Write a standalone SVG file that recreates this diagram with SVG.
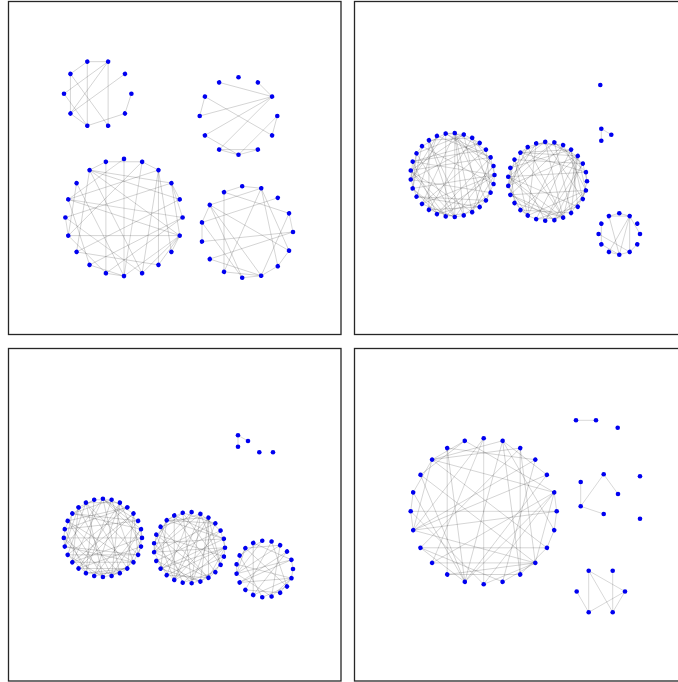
<svg xmlns="http://www.w3.org/2000/svg" xmlns:xlink="http://www.w3.org/1999/xlink" width="678" height="682" viewBox="0 0 678 682">
<style>
.frame{fill:#fff;stroke:#262626;stroke-width:1.3}
#connectors{stroke:#000;stroke-opacity:0.22;fill:none;stroke-linecap:butt}
#nodes circle{fill:#0000f0}
</style>
<defs>
<path id="c10-1" d="M1 0L0.809 -0.5878"/><path id="c10-2" d="M1 0L0.309 -0.9511"/><path id="c10-3" d="M1 0L-0.309 -0.9511"/><path id="c10-4" d="M1 0L-0.809 -0.5878"/><path id="c10-5" d="M1 0L-1 0"/>
<path id="c12-1" d="M1 0L0.866 -0.5"/><path id="c12-2" d="M1 0L0.5 -0.866"/><path id="c12-3" d="M1 0L0 -1"/><path id="c12-4" d="M1 0L-0.5 -0.866"/><path id="c12-5" d="M1 0L-0.866 -0.5"/><path id="c12-6" d="M1 0L-1 0"/>
<path id="c15-1" d="M1 0L0.9135 -0.4067"/><path id="c15-2" d="M1 0L0.6691 -0.7431"/><path id="c15-3" d="M1 0L0.309 -0.9511"/><path id="c15-4" d="M1 0L-0.1045 -0.9945"/><path id="c15-5" d="M1 0L-0.5 -0.866"/><path id="c15-6" d="M1 0L-0.809 -0.5878"/><path id="c15-7" d="M1 0L-0.9781 -0.2079"/>
<path id="c19-1" d="M1 0L0.9458 -0.3247"/><path id="c19-2" d="M1 0L0.7891 -0.6142"/><path id="c19-3" d="M1 0L0.5469 -0.8372"/><path id="c19-4" d="M1 0L0.2455 -0.9694"/><path id="c19-5" d="M1 0L-0.0826 -0.9966"/><path id="c19-6" d="M1 0L-0.4017 -0.9158"/><path id="c19-7" d="M1 0L-0.6773 -0.7357"/><path id="c19-8" d="M1 0L-0.8795 -0.4759"/><path id="c19-9" d="M1 0L-0.9864 -0.1646"/>
<path id="c20-1" d="M1 0L0.9511 -0.309"/><path id="c20-2" d="M1 0L0.809 -0.5878"/><path id="c20-3" d="M1 0L0.5878 -0.809"/><path id="c20-4" d="M1 0L0.309 -0.9511"/><path id="c20-5" d="M1 0L0 -1"/><path id="c20-6" d="M1 0L-0.309 -0.9511"/><path id="c20-7" d="M1 0L-0.5878 -0.809"/><path id="c20-8" d="M1 0L-0.809 -0.5878"/><path id="c20-9" d="M1 0L-0.9511 -0.309"/><path id="c20-10" d="M1 0L-1 0"/>
<path id="c24-1" d="M1 0L0.9659 -0.2588"/><path id="c24-2" d="M1 0L0.866 -0.5"/><path id="c24-3" d="M1 0L0.7071 -0.7071"/><path id="c24-4" d="M1 0L0.5 -0.866"/><path id="c24-5" d="M1 0L0.2588 -0.9659"/><path id="c24-6" d="M1 0L0 -1"/><path id="c24-7" d="M1 0L-0.2588 -0.9659"/><path id="c24-8" d="M1 0L-0.5 -0.866"/><path id="c24-9" d="M1 0L-0.7071 -0.7071"/><path id="c24-10" d="M1 0L-0.866 -0.5"/><path id="c24-11" d="M1 0L-0.9659 -0.2588"/><path id="c24-12" d="M1 0L-1 0"/>
<path id="c25-1" d="M1 0L0.9686 -0.2487"/><path id="c25-2" d="M1 0L0.8763 -0.4818"/><path id="c25-3" d="M1 0L0.729 -0.6845"/><path id="c25-4" d="M1 0L0.5358 -0.8443"/><path id="c25-5" d="M1 0L0.309 -0.9511"/><path id="c25-6" d="M1 0L0.0628 -0.998"/><path id="c25-7" d="M1 0L-0.1874 -0.9823"/><path id="c25-8" d="M1 0L-0.4258 -0.9048"/><path id="c25-9" d="M1 0L-0.6374 -0.7705"/><path id="c25-10" d="M1 0L-0.809 -0.5878"/><path id="c25-11" d="M1 0L-0.9298 -0.3681"/><path id="c25-12" d="M1 0L-0.9921 -0.1253"/>
<path id="c27-1" d="M1 0L0.973 -0.2306"/><path id="c27-2" d="M1 0L0.8936 -0.4488"/><path id="c27-3" d="M1 0L0.766 -0.6428"/><path id="c27-4" d="M1 0L0.5972 -0.8021"/><path id="c27-5" d="M1 0L0.3961 -0.9182"/><path id="c27-6" d="M1 0L0.1736 -0.9848"/><path id="c27-7" d="M1 0L-0.0581 -0.9983"/><path id="c27-8" d="M1 0L-0.2868 -0.958"/><path id="c27-9" d="M1 0L-0.5 -0.866"/><path id="c27-10" d="M1 0L-0.6862 -0.7274"/><path id="c27-11" d="M1 0L-0.8355 -0.5495"/><path id="c27-12" d="M1 0L-0.9397 -0.342"/><path id="c27-13" d="M1 0L-0.9932 -0.1161"/>
<path id="c28-1" d="M1 0L0.9749 -0.2225"/><path id="c28-2" d="M1 0L0.901 -0.4339"/><path id="c28-3" d="M1 0L0.7818 -0.6235"/><path id="c28-4" d="M1 0L0.6235 -0.7818"/><path id="c28-5" d="M1 0L0.4339 -0.901"/><path id="c28-6" d="M1 0L0.2225 -0.9749"/><path id="c28-7" d="M1 0L0 -1"/><path id="c28-8" d="M1 0L-0.2225 -0.9749"/><path id="c28-9" d="M1 0L-0.4339 -0.901"/><path id="c28-10" d="M1 0L-0.6235 -0.7818"/><path id="c28-11" d="M1 0L-0.7818 -0.6235"/><path id="c28-12" d="M1 0L-0.901 -0.4339"/><path id="c28-13" d="M1 0L-0.9749 -0.2225"/><path id="c28-14" d="M1 0L-1 0"/>
<path id="c29-1" d="M1 0L0.9766 -0.215"/><path id="c29-2" d="M1 0L0.9076 -0.4199"/><path id="c29-3" d="M1 0L0.7961 -0.6052"/><path id="c29-4" d="M1 0L0.6474 -0.7622"/><path id="c29-5" d="M1 0L0.4684 -0.8835"/><path id="c29-6" d="M1 0L0.2675 -0.9636"/><path id="c29-7" d="M1 0L0.0541 -0.9985"/><path id="c29-8" d="M1 0L-0.1618 -0.9868"/><path id="c29-9" d="M1 0L-0.3701 -0.929"/><path id="c29-10" d="M1 0L-0.5612 -0.8277"/><path id="c29-11" d="M1 0L-0.726 -0.6877"/><path id="c29-12" d="M1 0L-0.8568 -0.5156"/><path id="c29-13" d="M1 0L-0.9477 -0.3193"/><path id="c29-14" d="M1 0L-0.9941 -0.1081"/>
</defs>
<rect width="678" height="682" fill="#fff"/>
<g id="frames">
<rect class="frame" x="8.5" y="1.5" width="332.5" height="333"/>
<rect class="frame" x="354.5" y="1.5" width="340" height="333"/>
<rect class="frame" x="8.5" y="348.5" width="332.5" height="332.5"/>
<rect class="frame" x="354.5" y="348.5" width="340" height="332.5"/>
</g>
<g id="connectors">
<g transform="translate(97.7 93.7) scale(33.7)" stroke-width="0.021">
<use href="#c10-1" transform="rotate(-72)"/><use href="#c10-1" transform="rotate(-108)"/><use href="#c10-4" transform="rotate(-108)"/><use href="#c10-4" transform="rotate(-288)"/><use href="#c10-4" transform="rotate(-72)"/><use href="#c10-3" transform="rotate(-72)"/><use href="#c10-2" transform="rotate(-144)"/><use href="#c10-4" transform="rotate(-144)"/><use href="#c10-5" transform="rotate(-36)"/><use href="#c10-1" transform="rotate(-324)"/><use href="#c10-2" transform="rotate(-252)"/><use href="#c10-2" transform="rotate(-180)"/><use href="#c10-1" transform="rotate(-216)"/>
</g>
<g transform="translate(238.5 116) scale(38.8)" stroke-width="0.018">
<use href="#c12-3" transform="rotate(-30)"/><use href="#c12-1" transform="rotate(-30)"/><use href="#c12-5" transform="rotate(-30)"/><use href="#c12-6" transform="rotate(-30)"/><use href="#c12-5" transform="rotate(-240)"/><use href="#c12-1" transform="rotate(-150)"/><use href="#c12-6" transform="rotate(-150)"/><use href="#c12-3" transform="rotate(-270)"/><use href="#c12-1" transform="rotate(-330)"/><use href="#c12-2" transform="rotate(-210)"/><use href="#c12-1" transform="rotate(-240)"/><use href="#c12-1" transform="rotate(-270)"/><use href="#c12-2" transform="rotate(-240)"/>
</g>
<g transform="translate(124 217.5) scale(58.6)" stroke-width="0.012">
<use href="#c20-9"/><use href="#c20-6" transform="rotate(-18)"/><use href="#c20-1" transform="rotate(-18)"/><use href="#c20-5" transform="rotate(-36)"/><use href="#c20-8" transform="rotate(-36)"/><use href="#c20-6" transform="rotate(-54)"/><use href="#c20-1" transform="rotate(-54)"/><use href="#c20-7" transform="rotate(-72)"/><use href="#c20-2" transform="rotate(-72)"/><use href="#c20-10" transform="rotate(-90)"/><use href="#c20-4" transform="rotate(-90)"/><use href="#c20-8" transform="rotate(-108)"/><use href="#c20-1" transform="rotate(-108)"/><use href="#c20-5" transform="rotate(-126)"/><use href="#c20-9" transform="rotate(-126)"/><use href="#c20-3" transform="rotate(-144)"/><use href="#c20-7" transform="rotate(-144)"/><use href="#c20-10" transform="rotate(-162)"/><use href="#c20-4" transform="rotate(-162)"/><use href="#c20-6" transform="rotate(-180)"/><use href="#c20-1" transform="rotate(-180)"/><use href="#c20-8" transform="rotate(-198)"/><use href="#c20-3" transform="rotate(-198)"/><use href="#c20-5" transform="rotate(-216)"/><use href="#c20-9" transform="rotate(-216)"/><use href="#c20-2" transform="rotate(-234)"/><use href="#c20-7" transform="rotate(-234)"/><use href="#c20-6" transform="rotate(-252)"/><use href="#c20-1" transform="rotate(-252)"/><use href="#c20-4" transform="rotate(-270)"/><use href="#c20-9" transform="rotate(-270)"/><use href="#c20-3" transform="rotate(-288)"/><use href="#c20-7" transform="rotate(-288)"/><use href="#c20-2" transform="rotate(-306)"/><use href="#c20-6" transform="rotate(-306)"/><use href="#c20-5" transform="rotate(-324)"/><use href="#c20-1" transform="rotate(-324)"/><use href="#c20-3" transform="rotate(-342)"/><use href="#c20-8" transform="rotate(-342)"/><use href="#c20-2"/>
</g>
<g transform="translate(247 232) scale(46)" stroke-width="0.0152">
<use href="#c15-1" transform="rotate(-72)"/><use href="#c15-1" transform="rotate(-96)"/><use href="#c15-4" transform="rotate(-24)"/><use href="#c15-3" transform="rotate(-72)"/><use href="#c15-5" transform="rotate(-312)"/><use href="#c15-4" transform="rotate(-336)"/><use href="#c15-7" transform="rotate(-72)"/><use href="#c15-7" transform="rotate(-336)"/><use href="#c15-6" transform="rotate(-144)"/><use href="#c15-5" transform="rotate(-144)"/><use href="#c15-1" transform="rotate(-144)"/><use href="#c15-1" transform="rotate(-168)"/><use href="#c15-7" transform="rotate(-192)"/><use href="#c15-6" transform="rotate(-216)"/><use href="#c15-2" transform="rotate(-240)"/><use href="#c15-1" transform="rotate(-264)"/><use href="#c15-1" transform="rotate(-288)"/><use href="#c15-1" transform="rotate(-312)"/><use href="#c15-4" transform="rotate(-168)"/><use href="#c15-4" transform="rotate(-288)"/><use href="#c15-1"/><use href="#c15-5" transform="rotate(-48)"/><use href="#c15-5" transform="rotate(-120)"/><use href="#c15-3" transform="rotate(-216)"/>
</g>
<g transform="translate(452.5 175) scale(42)" stroke-width="0.0167">
<use href="#c29-2"/><use href="#c29-1"/><use href="#c29-13"/>
<use href="#c29-7" transform="rotate(-12.414)"/><use href="#c29-4" transform="rotate(-12.414)"/>
<use href="#c29-12" transform="rotate(-24.828)"/><use href="#c29-7" transform="rotate(-24.828)"/><use href="#c29-6" transform="rotate(-24.828)"/>
<use href="#c29-4" transform="rotate(-37.241)"/><use href="#c29-10" transform="rotate(-37.241)"/>
<use href="#c29-9" transform="rotate(-49.655)"/><use href="#c29-2" transform="rotate(-49.655)"/><use href="#c29-11" transform="rotate(-49.655)"/>
<use href="#c29-14" transform="rotate(-62.069)"/><use href="#c29-5" transform="rotate(-62.069)"/>
<use href="#c29-6" transform="rotate(-74.483)"/><use href="#c29-8" transform="rotate(-74.483)"/><use href="#c29-2" transform="rotate(-74.483)"/>
<use href="#c29-11" transform="rotate(-86.897)"/><use href="#c29-1" transform="rotate(-86.897)"/>
<use href="#c29-3" transform="rotate(-99.31)"/><use href="#c29-13" transform="rotate(-99.31)"/><use href="#c29-7" transform="rotate(-99.31)"/>
<use href="#c29-8" transform="rotate(-111.724)"/><use href="#c29-6" transform="rotate(-111.724)"/>
<use href="#c29-13" transform="rotate(-124.138)"/><use href="#c29-9" transform="rotate(-124.138)"/><use href="#c29-12" transform="rotate(-124.138)"/>
<use href="#c29-5" transform="rotate(-136.552)"/><use href="#c29-1" transform="rotate(-136.552)"/>
<use href="#c29-10" transform="rotate(-148.966)"/><use href="#c29-4" transform="rotate(-148.966)"/><use href="#c29-3" transform="rotate(-148.966)"/>
<use href="#c29-2" transform="rotate(-161.379)"/><use href="#c29-7" transform="rotate(-161.379)"/>
<use href="#c29-7" transform="rotate(-173.793)"/><use href="#c29-10" transform="rotate(-173.793)"/><use href="#c29-8" transform="rotate(-173.793)"/>
<use href="#c29-12" transform="rotate(-186.207)"/><use href="#c29-2" transform="rotate(-186.207)"/>
<use href="#c29-4" transform="rotate(-198.621)"/><use href="#c29-5" transform="rotate(-198.621)"/><use href="#c29-13" transform="rotate(-198.621)"/>
<use href="#c29-9" transform="rotate(-211.034)"/><use href="#c29-8" transform="rotate(-211.034)"/>
<use href="#c29-14" transform="rotate(-223.448)"/><use href="#c29-11" transform="rotate(-223.448)"/><use href="#c29-4" transform="rotate(-223.448)"/>
<use href="#c29-6" transform="rotate(-235.862)"/><use href="#c29-3" transform="rotate(-235.862)"/>
<use href="#c29-11" transform="rotate(-248.276)"/><use href="#c29-6" transform="rotate(-248.276)"/><use href="#c29-9" transform="rotate(-248.276)"/>
<use href="#c29-3" transform="rotate(-260.69)"/><use href="#c29-9" transform="rotate(-260.69)"/>
<use href="#c29-8" transform="rotate(-273.103)"/><use href="#c29-1" transform="rotate(-273.103)"/><use href="#c29-14" transform="rotate(-273.103)"/>
<use href="#c29-13" transform="rotate(-285.517)"/><use href="#c29-4" transform="rotate(-285.517)"/>
<use href="#c29-5" transform="rotate(-297.931)"/><use href="#c29-7" transform="rotate(-297.931)"/><use href="#c29-12" transform="rotate(-297.931)"/>
<use href="#c29-10" transform="rotate(-310.345)"/><use href="#c29-1" transform="rotate(-310.345)"/>
<use href="#c29-2" transform="rotate(-322.759)"/><use href="#c29-1" transform="rotate(-322.759)"/><use href="#c29-10" transform="rotate(-322.759)"/>
<use href="#c29-7" transform="rotate(-335.172)"/><use href="#c29-5" transform="rotate(-335.172)"/>
<use href="#c29-12" transform="rotate(-347.586)"/><use href="#c29-8" transform="rotate(-347.586)"/><use href="#c29-1" transform="rotate(-347.586)"/>
</g>
<g transform="translate(547.5 181.3) scale(39.5)" stroke-width="0.0177">
<use href="#c27-2"/><use href="#c27-1"/>
<use href="#c27-9" transform="rotate(-13.333)"/><use href="#c27-5" transform="rotate(-13.333)"/><use href="#c27-12" transform="rotate(-13.333)"/>
<use href="#c27-4" transform="rotate(-26.667)"/><use href="#c27-9" transform="rotate(-26.667)"/>
<use href="#c27-11" transform="rotate(-40)"/><use href="#c27-4" transform="rotate(-40)"/><use href="#c27-7" transform="rotate(-40)"/>
<use href="#c27-6" transform="rotate(-53.333)"/><use href="#c27-8" transform="rotate(-53.333)"/>
<use href="#c27-13" transform="rotate(-66.667)"/><use href="#c27-3" transform="rotate(-66.667)"/><use href="#c27-10" transform="rotate(-66.667)"/>
<use href="#c27-8" transform="rotate(-80)"/><use href="#c27-7" transform="rotate(-80)"/>
<use href="#c27-3" transform="rotate(-93.333)"/><use href="#c27-2" transform="rotate(-93.333)"/><use href="#c27-5" transform="rotate(-93.333)"/>
<use href="#c27-10" transform="rotate(-106.667)"/><use href="#c27-6" transform="rotate(-106.667)"/>
<use href="#c27-5" transform="rotate(-120)"/><use href="#c27-1" transform="rotate(-120)"/><use href="#c27-13" transform="rotate(-120)"/>
<use href="#c27-12" transform="rotate(-133.333)"/><use href="#c27-5" transform="rotate(-133.333)"/>
<use href="#c27-7" transform="rotate(-146.667)"/><use href="#c27-9" transform="rotate(-146.667)"/><use href="#c27-3" transform="rotate(-146.667)"/>
<use href="#c27-2" transform="rotate(-160)"/><use href="#c27-4" transform="rotate(-160)"/>
<use href="#c27-9" transform="rotate(-173.333)"/><use href="#c27-8" transform="rotate(-173.333)"/><use href="#c27-11" transform="rotate(-173.333)"/>
<use href="#c27-4" transform="rotate(-186.667)"/><use href="#c27-3" transform="rotate(-186.667)"/>
<use href="#c27-11" transform="rotate(-200)"/><use href="#c27-7" transform="rotate(-200)"/><use href="#c27-6" transform="rotate(-200)"/>
<use href="#c27-6" transform="rotate(-213.333)"/><use href="#c27-2" transform="rotate(-213.333)"/>
<use href="#c27-13" transform="rotate(-226.667)"/><use href="#c27-6" transform="rotate(-226.667)"/><use href="#c27-1" transform="rotate(-226.667)"/>
<use href="#c27-8" transform="rotate(-240)"/><use href="#c27-1" transform="rotate(-240)"/>
<use href="#c27-3" transform="rotate(-253.333)"/><use href="#c27-5" transform="rotate(-253.333)"/><use href="#c27-12" transform="rotate(-253.333)"/>
<use href="#c27-10" transform="rotate(-266.667)"/><use href="#c27-9" transform="rotate(-266.667)"/>
<use href="#c27-5" transform="rotate(-280)"/><use href="#c27-4" transform="rotate(-280)"/><use href="#c27-8" transform="rotate(-280)"/>
<use href="#c27-12" transform="rotate(-293.333)"/><use href="#c27-8" transform="rotate(-293.333)"/>
<use href="#c27-7" transform="rotate(-306.667)"/><use href="#c27-3" transform="rotate(-306.667)"/><use href="#c27-10" transform="rotate(-306.667)"/>
<use href="#c27-2" transform="rotate(-320)"/><use href="#c27-7" transform="rotate(-320)"/>
<use href="#c27-9" transform="rotate(-333.333)"/><use href="#c27-2" transform="rotate(-333.333)"/><use href="#c27-6" transform="rotate(-333.333)"/>
<use href="#c27-4" transform="rotate(-346.667)"/><use href="#c27-6" transform="rotate(-346.667)"/>
</g>
<g transform="translate(619.3 234) scale(20.7)" stroke-width="0.034">
<use href="#c12-1" transform="rotate(-90)"/><use href="#c12-1" transform="rotate(-60)"/><use href="#c12-2" transform="rotate(-60)"/><use href="#c12-6" transform="rotate(-60)"/><use href="#c12-5" transform="rotate(-270)"/><use href="#c12-4" transform="rotate(-300)"/><use href="#c12-2"/><use href="#c12-2" transform="rotate(-150)"/><use href="#c12-4" transform="rotate(-180)"/><use href="#c12-2" transform="rotate(-210)"/><use href="#c12-1" transform="rotate(-240)"/><use href="#c12-1" transform="rotate(-270)"/><use href="#c12-1" transform="rotate(-300)"/><use href="#c12-5" transform="rotate(-120)"/>
</g>
<g stroke-width="0.7">
<path d="M601.3 128.7L611.3 134.7M601.3 128.7L601.3 140.7"/>
<path d="M238 435.3L248 441M238 435.3L238 446.7"/>
<path d="M576 420.3L596 420.3M580.7 482L580.7 506.3L603.7 474.3L618 494M580.7 506.3L603.7 514"/>
<path d="M588.7 570.7L588.7 612.3M588.7 570.7L625 591.5M588.7 570.7L612.7 612.3M612.7 570.7L612.7 612.3M576.7 591.5L588.7 612.3M625 591.5L588.7 612.3M625 591.5L612.7 612.3"/>
</g>
<g transform="translate(102.9 537.9) scale(39.1)" stroke-width="0.0179">
<use href="#c28-1"/><use href="#c28-14"/><use href="#c28-7"/>
<use href="#c28-6" transform="rotate(-12.857)"/><use href="#c28-10" transform="rotate(-12.857)"/>
<use href="#c28-11" transform="rotate(-25.714)"/><use href="#c28-5" transform="rotate(-25.714)"/><use href="#c28-9" transform="rotate(-25.714)"/>
<use href="#c28-3" transform="rotate(-38.571)"/><use href="#c28-14" transform="rotate(-38.571)"/>
<use href="#c28-8" transform="rotate(-51.429)"/><use href="#c28-9" transform="rotate(-51.429)"/><use href="#c28-12" transform="rotate(-51.429)"/>
<use href="#c28-13" transform="rotate(-64.286)"/><use href="#c28-4" transform="rotate(-64.286)"/>
<use href="#c28-5" transform="rotate(-77.143)"/><use href="#c28-13" transform="rotate(-77.143)"/><use href="#c28-2" transform="rotate(-77.143)"/>
<use href="#c28-10" transform="rotate(-90)"/><use href="#c28-8" transform="rotate(-90)"/>
<use href="#c28-2" transform="rotate(-102.857)"/><use href="#c28-3" transform="rotate(-102.857)"/><use href="#c28-11" transform="rotate(-102.857)"/>
<use href="#c28-7" transform="rotate(-115.714)"/><use href="#c28-12" transform="rotate(-115.714)"/>
<use href="#c28-12" transform="rotate(-128.571)"/><use href="#c28-7" transform="rotate(-128.571)"/><use href="#c28-5" transform="rotate(-128.571)"/>
<use href="#c28-4" transform="rotate(-141.429)"/><use href="#c28-2" transform="rotate(-141.429)"/>
<use href="#c28-9" transform="rotate(-154.286)"/><use href="#c28-11" transform="rotate(-154.286)"/><use href="#c28-13" transform="rotate(-154.286)"/>
<use href="#c28-1" transform="rotate(-167.143)"/><use href="#c28-6" transform="rotate(-167.143)"/>
<use href="#c28-6" transform="rotate(-180)"/><use href="#c28-1" transform="rotate(-180)"/><use href="#c28-8" transform="rotate(-180)"/>
<use href="#c28-11" transform="rotate(-192.857)"/><use href="#c28-10" transform="rotate(-192.857)"/>
<use href="#c28-3" transform="rotate(-205.714)"/><use href="#c28-5" transform="rotate(-205.714)"/><use href="#c28-10" transform="rotate(-205.714)"/>
<use href="#c28-8" transform="rotate(-218.571)"/><use href="#c28-11" transform="rotate(-218.571)"/>
<use href="#c28-13" transform="rotate(-231.429)"/><use href="#c28-9" transform="rotate(-231.429)"/><use href="#c28-6" transform="rotate(-231.429)"/>
<use href="#c28-5" transform="rotate(-244.286)"/><use href="#c28-4" transform="rotate(-244.286)"/>
<use href="#c28-10" transform="rotate(-257.143)"/><use href="#c28-13" transform="rotate(-257.143)"/><use href="#c28-4" transform="rotate(-257.143)"/>
<use href="#c28-2" transform="rotate(-270)"/><use href="#c28-8" transform="rotate(-270)"/>
<use href="#c28-7" transform="rotate(-282.857)"/><use href="#c28-3" transform="rotate(-282.857)"/><use href="#c28-11" transform="rotate(-282.857)"/>
<use href="#c28-12" transform="rotate(-295.714)"/><use href="#c28-1" transform="rotate(-295.714)"/>
<use href="#c28-4" transform="rotate(-308.571)"/><use href="#c28-7" transform="rotate(-308.571)"/><use href="#c28-13" transform="rotate(-308.571)"/>
<use href="#c28-9" transform="rotate(-321.429)"/><use href="#c28-2" transform="rotate(-321.429)"/>
<use href="#c28-1" transform="rotate(-334.286)"/><use href="#c28-11" transform="rotate(-334.286)"/><use href="#c28-5" transform="rotate(-334.286)"/>
<use href="#c28-6" transform="rotate(-347.143)"/><use href="#c28-2" transform="rotate(-347.143)"/>
</g>
<g transform="translate(189.4 547.7) scale(35.6)" stroke-width="0.0197">
<use href="#c25-1"/><use href="#c25-2"/>
<use href="#c25-8" transform="rotate(-14.4)"/><use href="#c25-7" transform="rotate(-14.4)"/><use href="#c25-11" transform="rotate(-14.4)"/>
<use href="#c25-3" transform="rotate(-28.8)"/><use href="#c25-12" transform="rotate(-28.8)"/>
<use href="#c25-10" transform="rotate(-43.2)"/><use href="#c25-6" transform="rotate(-43.2)"/><use href="#c25-4" transform="rotate(-43.2)"/>
<use href="#c25-5" transform="rotate(-57.6)"/><use href="#c25-11" transform="rotate(-57.6)"/>
<use href="#c25-12" transform="rotate(-72)"/><use href="#c25-5" transform="rotate(-72)"/><use href="#c25-8" transform="rotate(-72)"/>
<use href="#c25-7" transform="rotate(-86.4)"/><use href="#c25-10" transform="rotate(-86.4)"/>
<use href="#c25-2" transform="rotate(-100.8)"/><use href="#c25-4" transform="rotate(-100.8)"/><use href="#c25-12" transform="rotate(-100.8)"/>
<use href="#c25-9" transform="rotate(-115.2)"/><use href="#c25-1" transform="rotate(-115.2)"/>
<use href="#c25-4" transform="rotate(-129.6)"/><use href="#c25-3" transform="rotate(-129.6)"/><use href="#c25-6" transform="rotate(-129.6)"/>
<use href="#c25-11" transform="rotate(-144)"/><use href="#c25-8" transform="rotate(-144)"/>
<use href="#c25-6" transform="rotate(-158.4)"/><use href="#c25-2" transform="rotate(-158.4)"/><use href="#c25-10" transform="rotate(-158.4)"/>
<use href="#c25-1" transform="rotate(-172.8)"/><use href="#c25-7" transform="rotate(-172.8)"/>
<use href="#c25-8" transform="rotate(-187.2)"/><use href="#c25-12" transform="rotate(-187.2)"/><use href="#c25-3" transform="rotate(-187.2)"/>
<use href="#c25-3" transform="rotate(-201.6)"/><use href="#c25-6" transform="rotate(-201.6)"/>
<use href="#c25-10" transform="rotate(-216)"/><use href="#c25-11" transform="rotate(-216)"/><use href="#c25-5" transform="rotate(-216)"/>
<use href="#c25-5" transform="rotate(-230.4)"/><use href="#c25-9" transform="rotate(-230.4)"/>
<use href="#c25-12" transform="rotate(-244.8)"/><use href="#c25-10" transform="rotate(-244.8)"/><use href="#c25-7" transform="rotate(-244.8)"/>
<use href="#c25-7" transform="rotate(-259.2)"/><use href="#c25-4" transform="rotate(-259.2)"/>
<use href="#c25-2" transform="rotate(-273.6)"/><use href="#c25-9" transform="rotate(-273.6)"/><use href="#c25-11" transform="rotate(-273.6)"/>
<use href="#c25-9" transform="rotate(-288)"/><use href="#c25-3" transform="rotate(-288)"/>
<use href="#c25-4" transform="rotate(-302.4)"/><use href="#c25-8" transform="rotate(-302.4)"/><use href="#c25-1" transform="rotate(-302.4)"/>
<use href="#c25-11" transform="rotate(-316.8)"/><use href="#c25-2" transform="rotate(-316.8)"/>
<use href="#c25-6" transform="rotate(-331.2)"/><use href="#c25-7" transform="rotate(-331.2)"/><use href="#c25-9" transform="rotate(-331.2)"/>
<use href="#c25-1" transform="rotate(-345.6)"/><use href="#c25-12" transform="rotate(-345.6)"/>
</g>
<g transform="translate(264.6 569) scale(28.4)" stroke-width="0.0246">
<use href="#c19-1"/>
<use href="#c19-5" transform="rotate(-18.947)"/><use href="#c19-9" transform="rotate(-18.947)"/>
<use href="#c19-9" transform="rotate(-37.895)"/>
<use href="#c19-4" transform="rotate(-56.842)"/><use href="#c19-7" transform="rotate(-56.842)"/>
<use href="#c19-8" transform="rotate(-75.789)"/>
<use href="#c19-3" transform="rotate(-94.737)"/><use href="#c19-5" transform="rotate(-94.737)"/>
<use href="#c19-7" transform="rotate(-113.684)"/>
<use href="#c19-2" transform="rotate(-132.632)"/><use href="#c19-3" transform="rotate(-132.632)"/>
<use href="#c19-6" transform="rotate(-151.579)"/>
<use href="#c19-1" transform="rotate(-170.526)"/><use href="#c19-9" transform="rotate(-170.526)"/>
<use href="#c19-5" transform="rotate(-189.474)"/>
<use href="#c19-9" transform="rotate(-208.421)"/><use href="#c19-7" transform="rotate(-208.421)"/>
<use href="#c19-4" transform="rotate(-227.368)"/>
<use href="#c19-8" transform="rotate(-246.316)"/><use href="#c19-5" transform="rotate(-246.316)"/>
<use href="#c19-3" transform="rotate(-265.263)"/>
<use href="#c19-7" transform="rotate(-284.211)"/><use href="#c19-3" transform="rotate(-284.211)"/>
<use href="#c19-2" transform="rotate(-303.158)"/>
<use href="#c19-6" transform="rotate(-322.105)"/><use href="#c19-9" transform="rotate(-322.105)"/>
<use href="#c19-1" transform="rotate(-341.053)"/>
</g>
<g transform="translate(483.7 511.3) scale(73)" stroke-width="0.0096">
<use href="#c24-1"/><use href="#c24-12"/>
<use href="#c24-6" transform="rotate(-15)"/><use href="#c24-8" transform="rotate(-15)"/>
<use href="#c24-11" transform="rotate(-30)"/><use href="#c24-3" transform="rotate(-30)"/>
<use href="#c24-5" transform="rotate(-45)"/><use href="#c24-10" transform="rotate(-45)"/>
<use href="#c24-10" transform="rotate(-60)"/><use href="#c24-5" transform="rotate(-60)"/>
<use href="#c24-4" transform="rotate(-75)"/><use href="#c24-12" transform="rotate(-75)"/>
<use href="#c24-9" transform="rotate(-90)"/><use href="#c24-7" transform="rotate(-90)"/><use href="#c24-12" transform="rotate(-90)"/>
<use href="#c24-3" transform="rotate(-105)"/><use href="#c24-2" transform="rotate(-105)"/>
<use href="#c24-8" transform="rotate(-120)"/><use href="#c24-9" transform="rotate(-120)"/>
<use href="#c24-2" transform="rotate(-135)"/><use href="#c24-4" transform="rotate(-135)"/>
<use href="#c24-7" transform="rotate(-150)"/><use href="#c24-11" transform="rotate(-150)"/>
<use href="#c24-1" transform="rotate(-165)"/><use href="#c24-6" transform="rotate(-165)"/>
<use href="#c24-6" transform="rotate(-180)"/><use href="#c24-1" transform="rotate(-180)"/>
<use href="#c24-11" transform="rotate(-195)"/><use href="#c24-8" transform="rotate(-195)"/>
<use href="#c24-5" transform="rotate(-210)"/><use href="#c24-3" transform="rotate(-210)"/><use href="#c24-8" transform="rotate(-210)"/>
<use href="#c24-10" transform="rotate(-225)"/><use href="#c24-6" transform="rotate(-225)"/>
<use href="#c24-4" transform="rotate(-240)"/><use href="#c24-5" transform="rotate(-240)"/>
<use href="#c24-9" transform="rotate(-255)"/><use href="#c24-8" transform="rotate(-255)"/>
<use href="#c24-3" transform="rotate(-270)"/><use href="#c24-7" transform="rotate(-270)"/>
<use href="#c24-8" transform="rotate(-285)"/><use href="#c24-2" transform="rotate(-285)"/>
<use href="#c24-2" transform="rotate(-300)"/><use href="#c24-9" transform="rotate(-300)"/><use href="#c24-8" transform="rotate(-300)"/>
<use href="#c24-7" transform="rotate(-315)"/><use href="#c24-4" transform="rotate(-315)"/>
<use href="#c24-1" transform="rotate(-330)"/><use href="#c24-11" transform="rotate(-330)"/>
<use href="#c24-6" transform="rotate(-345)"/><use href="#c24-1" transform="rotate(-345)"/>
</g>
</g>
<g id="nodes">
<g id="circle-a" transform="translate(97.7 93.7)">
<g id="a0"><circle cx="33.7" r="2.3"/></g><g id="a1" transform="rotate(-36)"><circle cx="33.7" r="2.3"/></g><g id="a2" transform="rotate(-72)"><circle cx="33.7" r="2.3"/></g><g id="a3" transform="rotate(-108)"><circle cx="33.7" r="2.3"/></g><g id="a4" transform="rotate(-144)"><circle cx="33.7" r="2.3"/></g><g id="a5" transform="rotate(-180)"><circle cx="33.7" r="2.3"/></g><g id="a6" transform="rotate(-216)"><circle cx="33.7" r="2.3"/></g><g id="a7" transform="rotate(-252)"><circle cx="33.7" r="2.3"/></g><g id="a8" transform="rotate(-288)"><circle cx="33.7" r="2.3"/></g><g id="a9" transform="rotate(-324)"><circle cx="33.7" r="2.3"/></g>
</g>
<g id="circle-b" transform="translate(238.5 116)">
<g id="b0"><circle cx="38.8" r="2.3"/></g><g id="b1" transform="rotate(-30)"><circle cx="38.8" r="2.3"/></g><g id="b2" transform="rotate(-60)"><circle cx="38.8" r="2.3"/></g><g id="b3" transform="rotate(-90)"><circle cx="38.8" r="2.3"/></g><g id="b4" transform="rotate(-120)"><circle cx="38.8" r="2.3"/></g><g id="b5" transform="rotate(-150)"><circle cx="38.8" r="2.3"/></g><g id="b6" transform="rotate(-180)"><circle cx="38.8" r="2.3"/></g><g id="b7" transform="rotate(-210)"><circle cx="38.8" r="2.3"/></g><g id="b8" transform="rotate(-240)"><circle cx="38.8" r="2.3"/></g><g id="b9" transform="rotate(-270)"><circle cx="38.8" r="2.3"/></g><g id="b10" transform="rotate(-300)"><circle cx="38.8" r="2.3"/></g><g id="b11" transform="rotate(-330)"><circle cx="38.8" r="2.3"/></g>
</g>
<g id="circle-c" transform="translate(124 217.5)">
<g id="c0"><circle cx="58.6" r="2.3"/></g><g id="c1" transform="rotate(-18)"><circle cx="58.6" r="2.3"/></g><g id="c2" transform="rotate(-36)"><circle cx="58.6" r="2.3"/></g><g id="c3" transform="rotate(-54)"><circle cx="58.6" r="2.3"/></g><g id="c4" transform="rotate(-72)"><circle cx="58.6" r="2.3"/></g><g id="c5" transform="rotate(-90)"><circle cx="58.6" r="2.3"/></g><g id="c6" transform="rotate(-108)"><circle cx="58.6" r="2.3"/></g><g id="c7" transform="rotate(-126)"><circle cx="58.6" r="2.3"/></g><g id="c8" transform="rotate(-144)"><circle cx="58.6" r="2.3"/></g><g id="c9" transform="rotate(-162)"><circle cx="58.6" r="2.3"/></g><g id="c10" transform="rotate(-180)"><circle cx="58.6" r="2.3"/></g><g id="c11" transform="rotate(-198)"><circle cx="58.6" r="2.3"/></g><g id="c12" transform="rotate(-216)"><circle cx="58.6" r="2.3"/></g><g id="c13" transform="rotate(-234)"><circle cx="58.6" r="2.3"/></g><g id="c14" transform="rotate(-252)"><circle cx="58.6" r="2.3"/></g><g id="c15" transform="rotate(-270)"><circle cx="58.6" r="2.3"/></g><g id="c16" transform="rotate(-288)"><circle cx="58.6" r="2.3"/></g><g id="c17" transform="rotate(-306)"><circle cx="58.6" r="2.3"/></g><g id="c18" transform="rotate(-324)"><circle cx="58.6" r="2.3"/></g><g id="c19" transform="rotate(-342)"><circle cx="58.6" r="2.3"/></g>
</g>
<g id="circle-d" transform="translate(247 232)">
<g id="d0"><circle cx="46" r="2.3"/></g><g id="d1" transform="rotate(-24)"><circle cx="46" r="2.3"/></g><g id="d2" transform="rotate(-48)"><circle cx="46" r="2.3"/></g><g id="d3" transform="rotate(-72)"><circle cx="46" r="2.3"/></g><g id="d4" transform="rotate(-96)"><circle cx="46" r="2.3"/></g><g id="d5" transform="rotate(-120)"><circle cx="46" r="2.3"/></g><g id="d6" transform="rotate(-144)"><circle cx="46" r="2.3"/></g><g id="d7" transform="rotate(-168)"><circle cx="46" r="2.3"/></g><g id="d8" transform="rotate(-192)"><circle cx="46" r="2.3"/></g><g id="d9" transform="rotate(-216)"><circle cx="46" r="2.3"/></g><g id="d10" transform="rotate(-240)"><circle cx="46" r="2.3"/></g><g id="d11" transform="rotate(-264)"><circle cx="46" r="2.3"/></g><g id="d12" transform="rotate(-288)"><circle cx="46" r="2.3"/></g><g id="d13" transform="rotate(-312)"><circle cx="46" r="2.3"/></g><g id="d14" transform="rotate(-336)"><circle cx="46" r="2.3"/></g>
</g>
<g id="circle-e" transform="translate(452.5 175)">
<g id="e0"><circle cx="42" r="2.3"/></g><g id="e1" transform="rotate(-12.414)"><circle cx="42" r="2.3"/></g><g id="e2" transform="rotate(-24.828)"><circle cx="42" r="2.3"/></g><g id="e3" transform="rotate(-37.241)"><circle cx="42" r="2.3"/></g><g id="e4" transform="rotate(-49.655)"><circle cx="42" r="2.3"/></g><g id="e5" transform="rotate(-62.069)"><circle cx="42" r="2.3"/></g><g id="e6" transform="rotate(-74.483)"><circle cx="42" r="2.3"/></g><g id="e7" transform="rotate(-86.897)"><circle cx="42" r="2.3"/></g><g id="e8" transform="rotate(-99.31)"><circle cx="42" r="2.3"/></g><g id="e9" transform="rotate(-111.724)"><circle cx="42" r="2.3"/></g><g id="e10" transform="rotate(-124.138)"><circle cx="42" r="2.3"/></g><g id="e11" transform="rotate(-136.552)"><circle cx="42" r="2.3"/></g><g id="e12" transform="rotate(-148.966)"><circle cx="42" r="2.3"/></g><g id="e13" transform="rotate(-161.379)"><circle cx="42" r="2.3"/></g><g id="e14" transform="rotate(-173.793)"><circle cx="42" r="2.3"/></g><g id="e15" transform="rotate(-186.207)"><circle cx="42" r="2.3"/></g><g id="e16" transform="rotate(-198.621)"><circle cx="42" r="2.3"/></g><g id="e17" transform="rotate(-211.034)"><circle cx="42" r="2.3"/></g><g id="e18" transform="rotate(-223.448)"><circle cx="42" r="2.3"/></g><g id="e19" transform="rotate(-235.862)"><circle cx="42" r="2.3"/></g><g id="e20" transform="rotate(-248.276)"><circle cx="42" r="2.3"/></g><g id="e21" transform="rotate(-260.69)"><circle cx="42" r="2.3"/></g><g id="e22" transform="rotate(-273.103)"><circle cx="42" r="2.3"/></g><g id="e23" transform="rotate(-285.517)"><circle cx="42" r="2.3"/></g><g id="e24" transform="rotate(-297.931)"><circle cx="42" r="2.3"/></g><g id="e25" transform="rotate(-310.345)"><circle cx="42" r="2.3"/></g><g id="e26" transform="rotate(-322.759)"><circle cx="42" r="2.3"/></g><g id="e27" transform="rotate(-335.172)"><circle cx="42" r="2.3"/></g><g id="e28" transform="rotate(-347.586)"><circle cx="42" r="2.3"/></g>
</g>
<g id="circle-f" transform="translate(547.5 181.3)">
<g id="f0"><circle cx="39.5" r="2.3"/></g><g id="f1" transform="rotate(-13.333)"><circle cx="39.5" r="2.3"/></g><g id="f2" transform="rotate(-26.667)"><circle cx="39.5" r="2.3"/></g><g id="f3" transform="rotate(-40)"><circle cx="39.5" r="2.3"/></g><g id="f4" transform="rotate(-53.333)"><circle cx="39.5" r="2.3"/></g><g id="f5" transform="rotate(-66.667)"><circle cx="39.5" r="2.3"/></g><g id="f6" transform="rotate(-80)"><circle cx="39.5" r="2.3"/></g><g id="f7" transform="rotate(-93.333)"><circle cx="39.5" r="2.3"/></g><g id="f8" transform="rotate(-106.667)"><circle cx="39.5" r="2.3"/></g><g id="f9" transform="rotate(-120)"><circle cx="39.5" r="2.3"/></g><g id="f10" transform="rotate(-133.333)"><circle cx="39.5" r="2.3"/></g><g id="f11" transform="rotate(-146.667)"><circle cx="39.5" r="2.3"/></g><g id="f12" transform="rotate(-160)"><circle cx="39.5" r="2.3"/></g><g id="f13" transform="rotate(-173.333)"><circle cx="39.5" r="2.3"/></g><g id="f14" transform="rotate(-186.667)"><circle cx="39.5" r="2.3"/></g><g id="f15" transform="rotate(-200)"><circle cx="39.5" r="2.3"/></g><g id="f16" transform="rotate(-213.333)"><circle cx="39.5" r="2.3"/></g><g id="f17" transform="rotate(-226.667)"><circle cx="39.5" r="2.3"/></g><g id="f18" transform="rotate(-240)"><circle cx="39.5" r="2.3"/></g><g id="f19" transform="rotate(-253.333)"><circle cx="39.5" r="2.3"/></g><g id="f20" transform="rotate(-266.667)"><circle cx="39.5" r="2.3"/></g><g id="f21" transform="rotate(-280)"><circle cx="39.5" r="2.3"/></g><g id="f22" transform="rotate(-293.333)"><circle cx="39.5" r="2.3"/></g><g id="f23" transform="rotate(-306.667)"><circle cx="39.5" r="2.3"/></g><g id="f24" transform="rotate(-320)"><circle cx="39.5" r="2.3"/></g><g id="f25" transform="rotate(-333.333)"><circle cx="39.5" r="2.3"/></g><g id="f26" transform="rotate(-346.667)"><circle cx="39.5" r="2.3"/></g>
</g>
<g id="g0"><circle cx="600.3" cy="85" r="2.3"/></g><g id="g1"><circle cx="601.3" cy="128.7" r="2.3"/></g><g id="g2"><circle cx="611.3" cy="134.7" r="2.3"/></g><g id="g3"><circle cx="601.3" cy="140.7" r="2.3"/></g>
<g id="circle-h" transform="translate(619.3 234)">
<g id="h0"><circle cx="20.7" r="2.3"/></g><g id="h1" transform="rotate(-30)"><circle cx="20.7" r="2.3"/></g><g id="h2" transform="rotate(-60)"><circle cx="20.7" r="2.3"/></g><g id="h3" transform="rotate(-90)"><circle cx="20.7" r="2.3"/></g><g id="h4" transform="rotate(-120)"><circle cx="20.7" r="2.3"/></g><g id="h5" transform="rotate(-150)"><circle cx="20.7" r="2.3"/></g><g id="h6" transform="rotate(-180)"><circle cx="20.7" r="2.3"/></g><g id="h7" transform="rotate(-210)"><circle cx="20.7" r="2.3"/></g><g id="h8" transform="rotate(-240)"><circle cx="20.7" r="2.3"/></g><g id="h9" transform="rotate(-270)"><circle cx="20.7" r="2.3"/></g><g id="h10" transform="rotate(-300)"><circle cx="20.7" r="2.3"/></g><g id="h11" transform="rotate(-330)"><circle cx="20.7" r="2.3"/></g>
</g>
<g id="circle-i" transform="translate(102.9 537.9)">
<g id="i0"><circle cx="39.1" r="2.3"/></g><g id="i1" transform="rotate(-12.857)"><circle cx="39.1" r="2.3"/></g><g id="i2" transform="rotate(-25.714)"><circle cx="39.1" r="2.3"/></g><g id="i3" transform="rotate(-38.571)"><circle cx="39.1" r="2.3"/></g><g id="i4" transform="rotate(-51.429)"><circle cx="39.1" r="2.3"/></g><g id="i5" transform="rotate(-64.286)"><circle cx="39.1" r="2.3"/></g><g id="i6" transform="rotate(-77.143)"><circle cx="39.1" r="2.3"/></g><g id="i7" transform="rotate(-90)"><circle cx="39.1" r="2.3"/></g><g id="i8" transform="rotate(-102.857)"><circle cx="39.1" r="2.3"/></g><g id="i9" transform="rotate(-115.714)"><circle cx="39.1" r="2.3"/></g><g id="i10" transform="rotate(-128.571)"><circle cx="39.1" r="2.3"/></g><g id="i11" transform="rotate(-141.429)"><circle cx="39.1" r="2.3"/></g><g id="i12" transform="rotate(-154.286)"><circle cx="39.1" r="2.3"/></g><g id="i13" transform="rotate(-167.143)"><circle cx="39.1" r="2.3"/></g><g id="i14" transform="rotate(-180)"><circle cx="39.1" r="2.3"/></g><g id="i15" transform="rotate(-192.857)"><circle cx="39.1" r="2.3"/></g><g id="i16" transform="rotate(-205.714)"><circle cx="39.1" r="2.3"/></g><g id="i17" transform="rotate(-218.571)"><circle cx="39.1" r="2.3"/></g><g id="i18" transform="rotate(-231.429)"><circle cx="39.1" r="2.3"/></g><g id="i19" transform="rotate(-244.286)"><circle cx="39.1" r="2.3"/></g><g id="i20" transform="rotate(-257.143)"><circle cx="39.1" r="2.3"/></g><g id="i21" transform="rotate(-270)"><circle cx="39.1" r="2.3"/></g><g id="i22" transform="rotate(-282.857)"><circle cx="39.1" r="2.3"/></g><g id="i23" transform="rotate(-295.714)"><circle cx="39.1" r="2.3"/></g><g id="i24" transform="rotate(-308.571)"><circle cx="39.1" r="2.3"/></g><g id="i25" transform="rotate(-321.429)"><circle cx="39.1" r="2.3"/></g><g id="i26" transform="rotate(-334.286)"><circle cx="39.1" r="2.3"/></g><g id="i27" transform="rotate(-347.143)"><circle cx="39.1" r="2.3"/></g>
</g>
<g id="circle-j" transform="translate(189.4 547.7)">
<g id="j0"><circle cx="35.6" r="2.3"/></g><g id="j1" transform="rotate(-14.4)"><circle cx="35.6" r="2.3"/></g><g id="j2" transform="rotate(-28.8)"><circle cx="35.6" r="2.3"/></g><g id="j3" transform="rotate(-43.2)"><circle cx="35.6" r="2.3"/></g><g id="j4" transform="rotate(-57.6)"><circle cx="35.6" r="2.3"/></g><g id="j5" transform="rotate(-72)"><circle cx="35.6" r="2.3"/></g><g id="j6" transform="rotate(-86.4)"><circle cx="35.6" r="2.3"/></g><g id="j7" transform="rotate(-100.8)"><circle cx="35.6" r="2.3"/></g><g id="j8" transform="rotate(-115.2)"><circle cx="35.6" r="2.3"/></g><g id="j9" transform="rotate(-129.6)"><circle cx="35.6" r="2.3"/></g><g id="j10" transform="rotate(-144)"><circle cx="35.6" r="2.3"/></g><g id="j11" transform="rotate(-158.4)"><circle cx="35.6" r="2.3"/></g><g id="j12" transform="rotate(-172.8)"><circle cx="35.6" r="2.3"/></g><g id="j13" transform="rotate(-187.2)"><circle cx="35.6" r="2.3"/></g><g id="j14" transform="rotate(-201.6)"><circle cx="35.6" r="2.3"/></g><g id="j15" transform="rotate(-216)"><circle cx="35.6" r="2.3"/></g><g id="j16" transform="rotate(-230.4)"><circle cx="35.6" r="2.3"/></g><g id="j17" transform="rotate(-244.8)"><circle cx="35.6" r="2.3"/></g><g id="j18" transform="rotate(-259.2)"><circle cx="35.6" r="2.3"/></g><g id="j19" transform="rotate(-273.6)"><circle cx="35.6" r="2.3"/></g><g id="j20" transform="rotate(-288)"><circle cx="35.6" r="2.3"/></g><g id="j21" transform="rotate(-302.4)"><circle cx="35.6" r="2.3"/></g><g id="j22" transform="rotate(-316.8)"><circle cx="35.6" r="2.3"/></g><g id="j23" transform="rotate(-331.2)"><circle cx="35.6" r="2.3"/></g><g id="j24" transform="rotate(-345.6)"><circle cx="35.6" r="2.3"/></g>
</g>
<g id="circle-k" transform="translate(264.6 569)">
<g id="k0"><circle cx="28.4" r="2.3"/></g><g id="k1" transform="rotate(-18.947)"><circle cx="28.4" r="2.3"/></g><g id="k2" transform="rotate(-37.895)"><circle cx="28.4" r="2.3"/></g><g id="k3" transform="rotate(-56.842)"><circle cx="28.4" r="2.3"/></g><g id="k4" transform="rotate(-75.789)"><circle cx="28.4" r="2.3"/></g><g id="k5" transform="rotate(-94.737)"><circle cx="28.4" r="2.3"/></g><g id="k6" transform="rotate(-113.684)"><circle cx="28.4" r="2.3"/></g><g id="k7" transform="rotate(-132.632)"><circle cx="28.4" r="2.3"/></g><g id="k8" transform="rotate(-151.579)"><circle cx="28.4" r="2.3"/></g><g id="k9" transform="rotate(-170.526)"><circle cx="28.4" r="2.3"/></g><g id="k10" transform="rotate(-189.474)"><circle cx="28.4" r="2.3"/></g><g id="k11" transform="rotate(-208.421)"><circle cx="28.4" r="2.3"/></g><g id="k12" transform="rotate(-227.368)"><circle cx="28.4" r="2.3"/></g><g id="k13" transform="rotate(-246.316)"><circle cx="28.4" r="2.3"/></g><g id="k14" transform="rotate(-265.263)"><circle cx="28.4" r="2.3"/></g><g id="k15" transform="rotate(-284.211)"><circle cx="28.4" r="2.3"/></g><g id="k16" transform="rotate(-303.158)"><circle cx="28.4" r="2.3"/></g><g id="k17" transform="rotate(-322.105)"><circle cx="28.4" r="2.3"/></g><g id="k18" transform="rotate(-341.053)"><circle cx="28.4" r="2.3"/></g>
</g>
<g id="l0"><circle cx="238" cy="435.3" r="2.3"/></g><g id="l1"><circle cx="248" cy="441" r="2.3"/></g><g id="l2"><circle cx="238" cy="446.7" r="2.3"/></g><g id="l3"><circle cx="259.3" cy="452.3" r="2.3"/></g><g id="l4"><circle cx="273" cy="452.3" r="2.3"/></g>
<g id="circle-m" transform="translate(483.7 511.3)">
<g id="m0"><circle cx="73" r="2.3"/></g><g id="m1" transform="rotate(-15)"><circle cx="73" r="2.3"/></g><g id="m2" transform="rotate(-30)"><circle cx="73" r="2.3"/></g><g id="m3" transform="rotate(-45)"><circle cx="73" r="2.3"/></g><g id="m4" transform="rotate(-60)"><circle cx="73" r="2.3"/></g><g id="m5" transform="rotate(-75)"><circle cx="73" r="2.3"/></g><g id="m6" transform="rotate(-90)"><circle cx="73" r="2.3"/></g><g id="m7" transform="rotate(-105)"><circle cx="73" r="2.3"/></g><g id="m8" transform="rotate(-120)"><circle cx="73" r="2.3"/></g><g id="m9" transform="rotate(-135)"><circle cx="73" r="2.3"/></g><g id="m10" transform="rotate(-150)"><circle cx="73" r="2.3"/></g><g id="m11" transform="rotate(-165)"><circle cx="73" r="2.3"/></g><g id="m12" transform="rotate(-180)"><circle cx="73" r="2.3"/></g><g id="m13" transform="rotate(-195)"><circle cx="73" r="2.3"/></g><g id="m14" transform="rotate(-210)"><circle cx="73" r="2.3"/></g><g id="m15" transform="rotate(-225)"><circle cx="73" r="2.3"/></g><g id="m16" transform="rotate(-240)"><circle cx="73" r="2.3"/></g><g id="m17" transform="rotate(-255)"><circle cx="73" r="2.3"/></g><g id="m18" transform="rotate(-270)"><circle cx="73" r="2.3"/></g><g id="m19" transform="rotate(-285)"><circle cx="73" r="2.3"/></g><g id="m20" transform="rotate(-300)"><circle cx="73" r="2.3"/></g><g id="m21" transform="rotate(-315)"><circle cx="73" r="2.3"/></g><g id="m22" transform="rotate(-330)"><circle cx="73" r="2.3"/></g><g id="m23" transform="rotate(-345)"><circle cx="73" r="2.3"/></g>
</g>
<g id="n0"><circle cx="576" cy="420.3" r="2.3"/></g><g id="n1"><circle cx="596" cy="420.3" r="2.3"/></g><g id="n2"><circle cx="617.7" cy="427.7" r="2.3"/></g><g id="n3"><circle cx="603.7" cy="474.3" r="2.3"/></g><g id="n4"><circle cx="580.7" cy="482" r="2.3"/></g><g id="n5"><circle cx="618" cy="494" r="2.3"/></g><g id="n6"><circle cx="580.7" cy="506.3" r="2.3"/></g><g id="n7"><circle cx="603.7" cy="514" r="2.3"/></g><g id="n8"><circle cx="640" cy="476.3" r="2.3"/></g><g id="n9"><circle cx="640" cy="518.7" r="2.3"/></g>
<g id="o0"><circle cx="588.7" cy="570.7" r="2.3"/></g><g id="o1"><circle cx="612.7" cy="570.7" r="2.3"/></g><g id="o2"><circle cx="625" cy="591.5" r="2.3"/></g><g id="o3"><circle cx="612.7" cy="612.3" r="2.3"/></g><g id="o4"><circle cx="588.7" cy="612.3" r="2.3"/></g><g id="o5"><circle cx="576.7" cy="591.5" r="2.3"/></g>
</g>
</svg>
